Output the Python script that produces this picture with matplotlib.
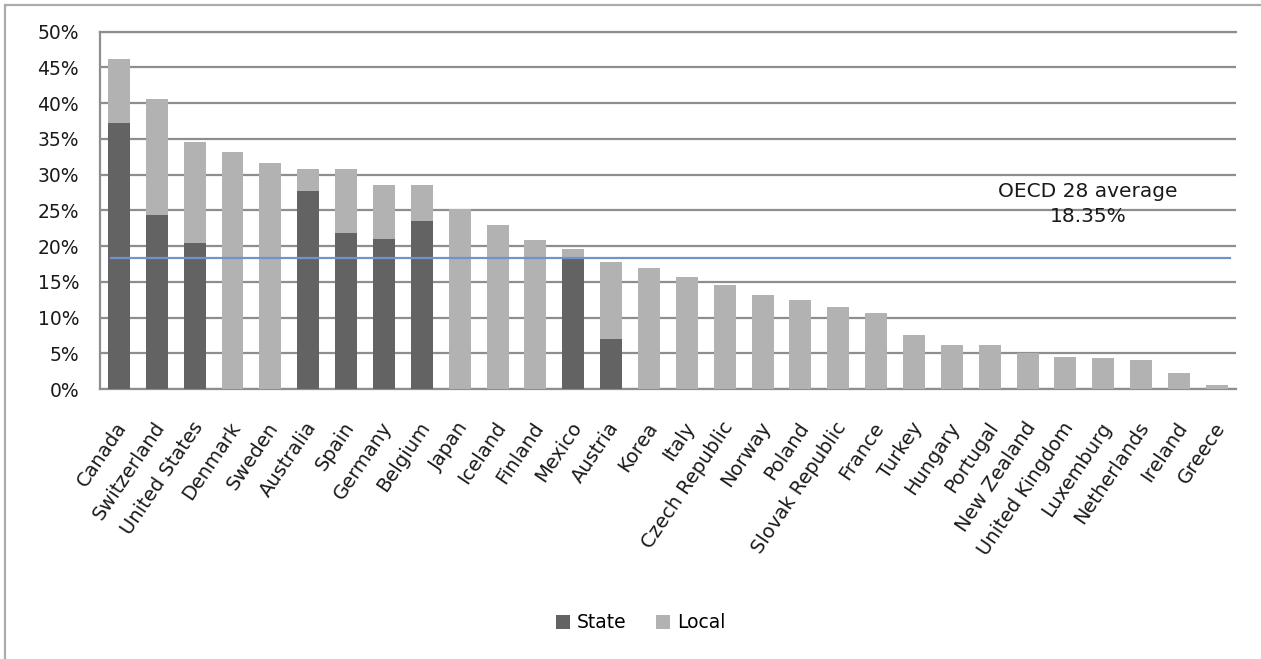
import matplotlib
matplotlib.use("Agg")
from matplotlib import pyplot as plt
from matplotlib.patches import Rectangle
from matplotlib.transforms import ScaledTranslation
import numpy as np

countries = ["Canada", "Switzerland", "United States", "Denmark", "Sweden",
             "Australia", "Spain", "Germany", "Belgium", "Japan", "Iceland",
             "Finland", "Mexico", "Austria", "Korea", "Italy", "Czech Republic",
             "Norway", "Poland", "Slovak Republic", "France", "Turkey", "Hungary",
             "Portugal", "New Zealand", "United Kingdom", "Luxemburg",
             "Netherlands", "Ireland", "Greece"]
# sub-central share of tax revenue, in percent
state = [37.2, 24.4, 20.5, 0, 0, 27.7, 21.8, 21.0, 23.5, 0, 0, 0, 18.5, 7.0,
         0, 0, 0, 0, 0, 0, 0, 0, 0, 0, 0, 0, 0, 0, 0, 0]
total = [46.2, 40.6, 34.5, 33.2, 31.6, 30.8, 30.8, 28.5, 28.5, 25.2, 22.9,
         20.8, 19.6, 17.8, 17.0, 15.7, 14.6, 13.1, 12.5, 11.5, 10.7, 7.5, 6.2,
         6.2, 5.0, 4.5, 4.3, 4.0, 2.2, 0.6]
local = [t - s for t, s in zip(total, state)]
oecd_avg = 18.35

STATE_COLOR = "#636363"
LOCAL_COLOR = "#b2b2b2"
GRID_COLOR = "#8e8e8e"

fig = plt.figure(figsize=(12.61, 6.59), dpi=100)
ax = fig.add_axes([0.0793, 0.4097, 0.9007, 0.5422])

x = np.arange(len(countries))
ax.bar(x, state, width=0.58, color=STATE_COLOR, label="State", zorder=3)
ax.bar(x, local, width=0.58, bottom=state, color=LOCAL_COLOR, label="Local", zorder=3)
ax.axhline(oecd_avg, color="#6f95c8", lw=1.6, xmin=0.01, xmax=0.995, zorder=4)
ax.text(25.6, 25.9, "OECD 28 average\n%.2f%%" % oecd_avg, ha="center", va="center",
        fontsize=14.5, linespacing=1.35, color="#1a1a1a")

ax.set_xlim(-0.5, len(countries) - 0.5)
ax.set_ylim(0, 50)
ax.set_yticks(np.arange(0, 51, 5))
ax.set_yticklabels(["%d%%" % v for v in range(0, 51, 5)])
ax.yaxis.grid(True, color=GRID_COLOR, lw=1.6, zorder=0)
ax.set_axisbelow(True)
for side in ax.spines.values():
    side.set_color(GRID_COLOR)
    side.set_linewidth(1.6)
ax.spines["right"].set_visible(False)

ax.set_xticks(x)
ax.set_xticklabels(countries, rotation=56, ha="right", va="center",
                   rotation_mode="anchor")
ax.tick_params(axis="x", length=0, pad=25, labelsize=14, labelcolor="#1a1a1a")
ax.tick_params(axis="y", length=0, pad=15, labelsize=13.5, labelcolor="#1a1a1a")
shift = ScaledTranslation(3 / 72, 0, fig.dpi_scale_trans)
for lab in ax.get_xticklabels():
    lab.set_transform(lab.get_transform() + shift)

fig.legend(loc="center", bbox_to_anchor=(0.508, 0.055), ncol=2, frameon=False,
           fontsize=13.5, handlelength=0.75, handleheight=0.75, handletextpad=0.35,
           columnspacing=1.6)

# light frame around the whole chart
fig.patches.append(Rectangle((5 / 1261, -0.1), 1.2, 1.1 - 5 / 659,
                             transform=fig.transFigure, fill=False,
                             edgecolor="#ababab", lw=1.6))

fig.savefig("out.png", dpi=100)
